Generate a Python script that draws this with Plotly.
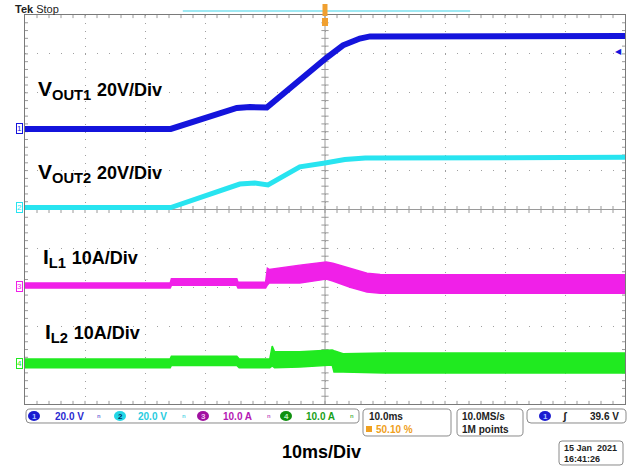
import plotly.graph_objects as go

# ---- values ----
# time axis in ms (10 ms/div, trigger point at 0)
t_vout1 = [-50, -25.7, -14.7, -12.5, -9.7, -4.2, 0.2, 3.0, 5.8, 7.5, 50]
vout1 = [0, 0, 10.8, 11.3, 11.0, 25.7, 36.5, 43.0, 46.5, 47.6, 47.8]  # V

t_vout2 = [-50, -25.7, -14.2, -11.7, -9.5, -4.2, 0, 3.3, 6.7, 50]
vout2 = [0, 0, 12.1, 12.6, 11.6, 20.9, 22.9, 24.7, 25.5, 25.8]  # V

# inductor currents: switching ripple shown as upper / lower envelope (A)
t_il1 = [-50, -25.8, -25.6, -14.7, -14.5, -9.9, -9.6, -9.3, -4.2, 0.2, 1.3, 4.2, 7.0, 9.2, 50]
il1_hi = [0.8, 0.8, 1.9, 1.9, 1.0, 1.0, 4.6, 4.3, 5.4, 6.2, 5.9, 4.6, 3.3, 3.0, 2.9]
il1_lo = [-0.5, -0.5, 0.2, 0.2, -0.5, -0.5, 0.3, 0.8, 0.8, 1.8, 1.3, -0.3, -1.5, -1.8, -1.8]

t_il2 = [-50, -25.8, -25.6, -14.7, -14.3, -9.2, -8.8, -8.4, -4.2, 0, 1.2, 1.5, 3.0, 10, 50]
il2_hi = [1.3, 1.3, 2.0, 2.0, 1.3, 1.3, 4.6, 3.1, 3.1, 3.6, 3.6, 3.4, 2.6, 2.8, 2.8]
il2_lo = [-1.0, -1.0, -0.4, -0.4, -1.0, -1.0, -0.5, -1.0, -0.8, -0.3, -0.3, -2.1, -2.1, -2.3, -2.3]

# channel vertical position (div) and scale (units/div)
ch_pos = [2.07, 0.05, -1.97, -3.97]
ch_scale = [20, 20, 10, 10]
ch_color = ["#1414dc", "#28e4f0", "#f020e8", "#20ea20"]
trig_level = 39.6

# screen geometry in pixels
W, H = 636, 466
L, R, T, B = 25, 625, 15, 404
FONT = "Liberation Sans, Arial, sans-serif"


def px(x):
    return (x - L) / (R - L)


def py(y):
    return (B - y) / (B - T)


fig = go.Figure()

# graticule ticks (1/5 division) on the frame and on the centre cross
gx, gy = [], []
for i in range(1, 50):
    x = -50 + 2 * i
    for y0, y1 in [(5, 4.92), (-5, -4.92), (-0.09, 0.09)]:
        gx += [x, x, None]
        gy += [y0, y1, None]
for i in range(1, 50):
    y = -5 + 0.2 * i
    for x0, x1 in [(-50, -49.5), (50, 49.5), (-0.6, 0.6)]:
        gx += [x0, x1, None]
        gy += [y, y, None]
gx += [-50, 50, None, 0, 0]
gy += [0, 0, None, -5, 5]
fig.add_trace(go.Scatter(x=gx, y=gy, mode="lines", line=dict(color="#9a9a9a", width=1),
                         hoverinfo="skip", showlegend=False))

# voltages as thick traces
fig.add_trace(go.Scatter(x=t_vout1, y=vout1, yaxis="y2", mode="lines",
                         line=dict(color=ch_color[0], width=6), showlegend=False))
fig.add_trace(go.Scatter(x=t_vout2, y=vout2, yaxis="y3", mode="lines",
                         line=dict(color=ch_color[1], width=5), showlegend=False))

# currents as filled envelopes
for t, lo, hi, ax, col in [(t_il1, il1_lo, il1_hi, "y4", ch_color[2]),
                           (t_il2, il2_lo, il2_hi, "y5", ch_color[3])]:
    fig.add_trace(go.Scatter(x=t, y=lo, yaxis=ax, mode="lines",
                             line=dict(color=col, width=1.5), showlegend=False))
    fig.add_trace(go.Scatter(x=t, y=hi, yaxis=ax, mode="lines", fill="tonexty",
                             fillcolor=col, line=dict(color=col, width=1.5), showlegend=False))

axis_common = dict(showticklabels=False, ticks="", zeroline=False, fixedrange=True)
fig.update_layout(
    width=W, height=H,
    margin=dict(l=L, r=W - R, t=T, b=H - B),
    paper_bgcolor="white", plot_bgcolor="white",
    font=dict(family=FONT, color="black"),
    xaxis=dict(range=[-50, 50], tick0=-50, dtick=10, showgrid=True, gridcolor="#a0a0a0",
               griddash="1px,6.78px", showline=True, mirror=True, linecolor="#7a7a7a",
               linewidth=1, **axis_common),
    yaxis=dict(range=[-5, 5], tick0=-5, dtick=1, showgrid=True, gridcolor="#a0a0a0",
               griddash="1px,11px", showline=True, mirror=True, linecolor="#7a7a7a",
               linewidth=1, **axis_common),
)
for k in range(4):
    rng = [(-5 - ch_pos[k]) * ch_scale[k], (5 - ch_pos[k]) * ch_scale[k]]
    fig.update_layout({f"yaxis{k + 2}": dict(range=rng, overlaying="y", visible=False,
                                             fixedrange=True)})

ann = []
shapes = []

# channel ground markers on the left
for k in range(4):
    ann.append(dict(x=-50, y=0, xref="x", yref=f"y{k + 2}", text=str(k + 1), showarrow=False,
                    xanchor="right", xshift=-2, font=dict(size=8, color=ch_color[k]),
                    bordercolor=ch_color[k], borderwidth=1, borderpad=0, bgcolor="white"))
# trigger level arrow on the right
ann.append(dict(x=50, y=trig_level, xref="x", yref="y2", text="◀", showarrow=False,
                xanchor="right", xshift=-1, font=dict(size=8, color=ch_color[0])))

# channel labels
labels = [("V<sub>OUT1</sub>", "20V/Div", 36, 90), ("V<sub>OUT2</sub>", "20V/Div", 36, 173),
          ("I<sub>L1</sub>", "10A/Div", 41, 258), ("I<sub>L2</sub>", "10A/Div", 43, 333)]
for name, scale, x, y in labels:
    ann.append(dict(x=px(x), y=py(y), xref="paper", yref="paper", xanchor="left", yanchor="middle",
                    text=f"<b>{name} <span style='font-size:18px'>{scale}</span></b>",
                    showarrow=False, font=dict(size=21, color="black")))

# top bar
ann.append(dict(x=px(13), y=py(9), xref="paper", yref="paper", xanchor="left", yanchor="middle",
                text="<b>Tek</b> Stop", showarrow=False, font=dict(size=11, color="#222")))
shapes.append(dict(type="line", xref="x", yref="paper", x0=-23.7, x1=24.2, y0=py(11), y1=py(11),
                   line=dict(color="#7ee0ee", width=1.5)))
shapes.append(dict(type="rect", xref="paper", yref="paper", x0=px(322.5), x1=px(327.5),
                   y0=py(16), y1=py(4), fillcolor="#f0a030", line=dict(width=0)))
shapes.append(dict(type="rect", xref="paper", yref="paper", x0=px(322), x1=px(328),
                   y0=py(26), y1=py(18), fillcolor="#f0a030", line=dict(width=0)))


def rrect(x0, y0, x1, y1, r=4):
    pts = [("M", x0 + r, y0), ("L", x1 - r, y0), ("Q", x1, y0, x1, y0 + r), ("L", x1, y1 - r),
           ("Q", x1, y1, x1 - r, y1), ("L", x0 + r, y1), ("Q", x0, y1, x0, y1 - r),
           ("L", x0, y0 + r), ("Q", x0, y0, x0 + r, y0)]
    path = ""
    for p in pts:
        c = p[0]
        nums = p[1:]
        coords = []
        for j in range(0, len(nums), 2):
            coords.append(f"{px(nums[j]):.5f},{py(nums[j + 1]):.5f}")
        path += c + " ".join(coords) + " "
    return dict(type="path", xref="paper", yref="paper", path=path + "Z",
                line=dict(color="#8a8a8a", width=1), fillcolor="white")


shapes += [rrect(26, 409, 359, 423), rrect(363, 409, 451, 436), rrect(457, 409, 523, 436),
           rrect(527, 409, 626, 423), rrect(559, 441, 623, 465, 3)]


def txt(x, y, s, size=10, color="#222", anchor="left", bold=False):
    ann.append(dict(x=px(x), y=py(y), xref="paper", yref="paper", xanchor=anchor, yanchor="middle",
                    text=f"<b>{s}</b>" if bold else s, showarrow=False,
                    font=dict(size=size, color=color)))


def badge(x, y, num, fill, fg):
    shapes.append(dict(type="circle", xref="paper", yref="paper", x0=px(x - 6), x1=px(x + 6),
                       y0=py(y + 5), y1=py(y - 5), fillcolor=fill, line=dict(width=0)))
    txt(x, y, str(num), size=8, color=fg, anchor="center", bold=True)


badge(34, 416, 1, "#1a1ad0", "#a8c0ff")
txt(53, 416, "20.0 V", color="#2a2ad0", bold=True)
txt(95, 416, "ⁿ", color="#4a4ad0")
badge(120, 416, 2, "#22d6e6", "#003060")
txt(136, 416, "20.0 V", color="#28cce0", bold=True)
txt(180, 416, "ⁿ", color="#28cce0")
badge(203, 416, 3, "#a010a0", "#f0c0f0")
txt(221, 416, "10.0 A", color="#b418b4", bold=True)
txt(265, 416, "ⁿ", color="#b418b4")
badge(286, 416, 4, "#109010", "#c0f0c0")
txt(304, 416, "10.0 A", color="#18a018", bold=True)
txt(348, 416, "ⁿ", color="#18a018")

txt(367, 416, "10.0ms", bold=True)
shapes.append(dict(type="rect", xref="paper", yref="paper", x0=px(366), x1=px(372),
                   y0=py(432), y1=py(426), fillcolor="#f0a020", line=dict(width=0)))
txt(374, 429, "50.10 %", color="#f0a020", bold=True)
txt(460, 416, "10.0MS/s", bold=True)
txt(460, 429, "1M points", bold=True)
badge(545, 416, 1, "#1a1ad0", "#a8c0ff")
txt(560, 416, "ʃ", size=11, bold=True)
txt(621, 416, "39.6 V", anchor="right", bold=True)

txt(321, 452, "10ms/Div", size=18, color="black", anchor="center", bold=True)
txt(562, 448, "15 Jan  2021", size=9, bold=True)
txt(562, 459, "16:41:26", size=9, bold=True)

fig.update_layout(annotations=ann, shapes=shapes)

fig.write_html("out.html", config={"displayModeBar": False},
               post_script="document.body.style.margin='0';")
